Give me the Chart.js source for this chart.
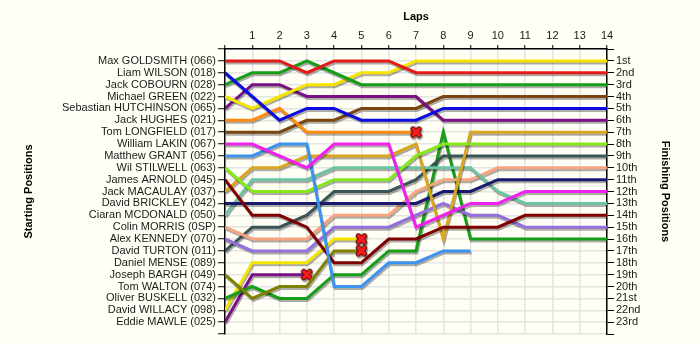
<!DOCTYPE html>
<html>
<head>
<meta charset="utf-8">
<title>Lap Chart</title>
<script src="https://cdn.jsdelivr.net/npm/chart.js@4.4.0/dist/chart.umd.min.js"></script>
<style>
  body { margin: 0; background: #fffff5; }
  #wrap { width: 700px; height: 345px; position: relative; }
</style>
</head>
<body>
<div id="wrap"><canvas id="lapChart"></canvas></div>
<script>
'use strict';

let laps=[0,1,2,3,4,5,6,7,8,9,10,11,12,13,14];

let drivers=['Max GOLDSMITH (066)','Liam WILSON (018)','Jack COBOURN (028)','Michael GREEN (022)',
  'Sebastian HUTCHINSON (065)','Jack HUGHES (021)','Tom LONGFIELD (017)','William LAKIN (067)',
  'Matthew GRANT (056)','Wil STILWELL (063)','James ARNOLD (045)','Jack MACAULAY (037)',
  'David BRICKLEY (042)','Ciaran MCDONALD (050)','Colin MORRIS (0SP)','Alex KENNEDY (070)',
  'David TURTON (011)','Daniel MENSE (089)','Joseph BARGH (049)','Tom WALTON (074)',
  'Oliver BUSKELL (032)','David WILLACY (098)','Eddie MAWLE (025)'];

let finishLabels=['1st','2nd','3rd','4th','5th','6th','7th','8th','9th','10th','11th','12th',
  '13th','14th','15th','16th','17th','18th','19th','20th','21st','22nd','23rd'];

// position at the end of each lap (lap 0 = grid)
let goldsmith=[1,1,1,2,1,1,1,2,2,2,2,2,2,2,2];
let wilson=[2,4,6,5,5,6,6,6,5,5,5,5,5,5,5];
let cobourn=[3,2,2,1,2,3,3,3,3,3,3,3,3,3,3];
let green=[4,5,4,3,3,2,2,1,1,1,1,1,1,1,1];
let hutchinson=[5,3,3,4,4,4,4,4,6,6,6,6,6,6,6];
let hughes=[6,6,5,7,7,7,7,7];
let longfield=[7,7,7,6,6,5,5,5,4,4,4,4,4,4,4];
let lakin=[8,8,9,10,8,8,8,15,14,13,13,12,12,12,12];
let grant=[9,9,8,8,20,20,18,18,17,17];
let stilwell=[10,12,12,12,11,11,11,9,8,8,8,8,8,8,8];
let arnold=[11,14,14,15,18,18,16,16,15,15,15,14,14,14,14];
let macaulay=[12,10,10,9,9,9,9,8,16,7,7,7,7,7,7];
let brickley=[13,13,13,13,13,13,13,13,12,12,11,11,11,11,11];
let mcdonald=[14,11,11,11,10,10,10,10,10,10,12,13,13,13,13];
let morris=[15,16,16,16,14,14,14,12,11,11,10,10,10,10,10];
let kennedy=[16,17,17,17,15,15,15,14,13,14,14,15,15,15,15];
let turton=[17,15,15,14,12,12,12,11,9,9,9,9,9,9,9];
let mense=[];
let bargh=[19,21,20,20,17,17];
let walton=[];
let buskell=[21,20,21,21,19,19,17,17,7,16,16,16,16,16,16];
let willacy=[22,18,18,18,16,16];
let mawle=[23,19,19,19];

let positions=[goldsmith,wilson,cobourn,green,hutchinson,hughes,longfield,lakin,grant,stilwell,
  arnold,macaulay,brickley,mcdonald,morris,kennedy,turton,mense,bargh,walton,buskell,willacy,mawle];

// drivers that get the red cross where their line stops
let retired=['Jack HUGHES (021)','Joseph BARGH (049)','David WILLACY (098)','Eddie MAWLE (025)'];

let colors=['#e61919','#0c0ce0','#179e17','#f5e400','#7a0f88','#ff8a12','#7a4510','#f020f0',
  '#3a94f0','#84e81a','#7e0000','#daa520','#191970','#6cc4a4','#f7a482','#9370db',
  '#3a5555','#999999','#808000','#999999','#179e17','#f5e400','#7a0f88'];

Chart.defaults.font.family='Arial, "Liberation Sans", sans-serif';
Chart.defaults.font.size=11;
Chart.defaults.color='#1a1a1a';

function makeCross(){
  let c=document.createElement('canvas');
  c.width=13;
  c.height=13;
  let g=c.getContext('2d');
  g.lineCap='round';
  g.beginPath();
  g.moveTo(3.5,3.5);g.lineTo(9.5,9.5);
  g.moveTo(9.5,3.5);g.lineTo(3.5,9.5);
  g.strokeStyle='#5a0a0a';g.lineWidth=5.5;g.stroke();
  g.strokeStyle='#ff1a1a';g.lineWidth=3.2;g.stroke();
  return c;
}
let cross=makeCross();

let datasets=[];
for(let i=0;i<drivers.length;i++){
  let pos=positions[i];
  if(pos.length==0) continue;
  let radius=[];
  for(let j=0;j<pos.length;j++){
    radius.push((j==pos.length-1 && retired.includes(drivers[i])) ? 6 : 0);
  }
  datasets.push({
    label:drivers[i],
    data:pos,
    borderColor:colors[i],
    backgroundColor:colors[i],
    borderWidth:3,
    tension:0,
    pointRadius:radius,
    pointHoverRadius:radius,
    pointStyle:cross,
    yAxisID:'y'
  });
}

// grey drop shadow under every line
let shadowPlugin={
  id:'lineShadow',
  beforeDatasetsDraw(chart){
    let ctx=chart.ctx;
    ctx.save();
    ctx.shadowColor='rgba(0,0,0,0.32)';
    ctx.shadowBlur=0;
    ctx.shadowOffsetX=1;
    ctx.shadowOffsetY=2;
  },
  afterDatasetsDraw(chart){
    chart.ctx.restore();
  }
};

let gridColor='#e4e4e4';

const lapChart=new Chart(document.getElementById('lapChart'),{
  type:'line',
  data:{labels:laps,datasets:datasets},
  plugins:[shadowPlugin],
  options:{
    responsive:true,
    maintainAspectRatio:false,
    animation:false,
    layout:{padding:{left:0,right:0,top:0,bottom:11}},
    plugins:{legend:{display:false},tooltip:{enabled:false}},
    scales:{
      x:{
        type:'linear',
        position:'top',
        min:0,max:14,
        afterFit(scale){scale.height=49;},
        ticks:{stepSize:1,autoSkip:false,maxRotation:0,padding:2,
          callback:v=>v==0?'':v},
        grid:{color:gridColor,lineWidth:1.5,tickColor:'#000',tickLength:4,tickWidth:1},
        border:{color:'#000',width:1.5},
        title:{display:true,text:'Laps',color:'#000',font:{weight:'bold',size:11},padding:{top:10,bottom:0}}
      },
      y:{
        type:'linear',
        position:'left',
        reverse:true,
        min:0,max:24,
        afterFit(scale){scale.width=225;},
        ticks:{stepSize:1,autoSkip:false,padding:2,
          callback:v=>drivers[v-1]||''},
        grid:{color:gridColor,lineWidth:1.5,tickColor:'#000',tickLength:7,tickWidth:1},
        border:{color:'#000',width:1.5},
        title:{display:true,text:'Starting Positions',color:'#000',font:{weight:'bold',size:11},padding:{top:22,bottom:0}}
      },
      y2:{
        type:'linear',
        position:'right',
        reverse:true,
        min:0,max:24,
        afterFit(scale){scale.width=93;},
        ticks:{stepSize:1,autoSkip:false,padding:2,
          callback:v=>finishLabels[v-1]||''},
        grid:{drawOnChartArea:false,tickColor:'#000',tickLength:7,tickWidth:1},
        border:{color:'#000',width:1.5},
        title:{display:true,text:'Finishing Positions',color:'#000',font:{weight:'bold',size:11},padding:{top:28,bottom:0}}
      }
    }
  }
});
</script>
</body>
</html>
